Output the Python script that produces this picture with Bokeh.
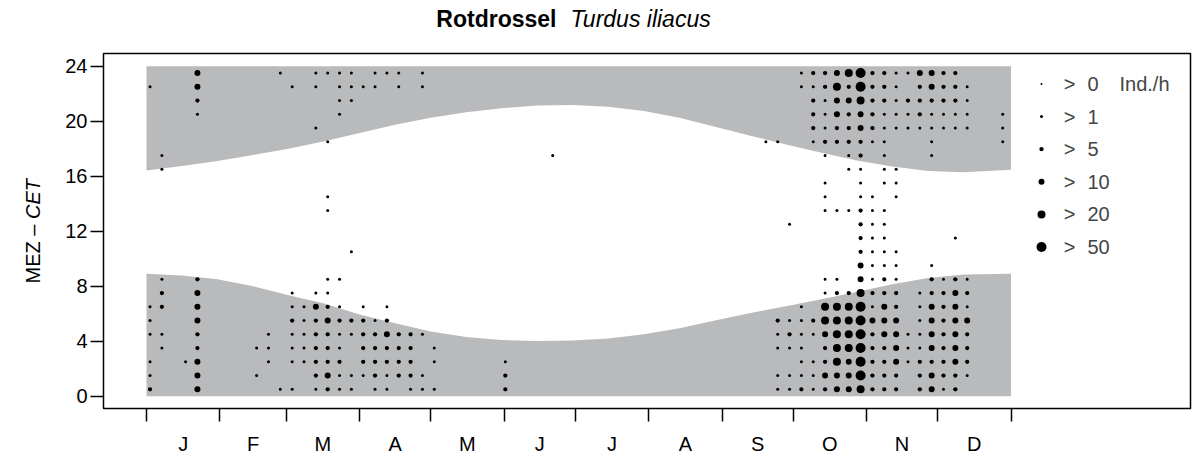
from bokeh.plotting import figure
from bokeh.models import Range1d, FixedTicker, Label
from bokeh.layouts import column, row
from bokeh.embed import file_html
from bokeh.resources import INLINE
from bokeh.core.properties import value
from math import pi

# ---------------- data ----------------
months = ["J", "F", "M", "A", "M", "J", "J", "A", "S", "O", "N", "D"]
month_days = [31, 28, 31, 30, 31, 30, 31, 31, 30, 31, 30, 31]
y_ticks = [0, 4, 8, 12, 16, 20, 24]

# abundance classes (Ind./h)
class_labels = ["0", "1", "5", "10", "20", "50"]
class_sizes = [2.0, 3.0, 4.3, 6.0, 8.0, 10.0]

# pentade index -> class per hour (char i = hour i, 0 = no record)
detections = {
    0:  "322022200000000000000020",
    1:  "000220332000000022000000",
    3:  "002000000000000000000000",
    4:  "444334443000000000002344",
    9:  "020200000000000000000000",
    10: "002220000000000000000000",
    11: "200000000000000000000002",
    12: "202223220000000000000020",
    13: "002222200000000000000000",
    14: "233333420000000000020022",
    15: "343334322000022000200002",
    16: "223223202000000000002222",
    17: "220023000020000000000222",
    18: "023333200000000000000020",
    19: "233332000000000000000022",
    20: "223343200000000000000002",
    21: "033330000000000000000022",
    22: "233330000000000000000000",
    23: "220020000000000000000022",
    24: "202200000000000000000000",
    30: "332000000000000000000000",
    34: "000000000000000002000000",
    52: "000000000000000000200000",
    53: "220223000000000000200000",
    54: "220232000000200000000000",
    55: "322222200000000000000022",
    56: "222023000000000000233323",
    57: "343345522000022202322233",
    58: "445555532000020000334454",
    59: "444555530000020022333435",
    60: "566666654433332223344566",
    61: "333334232222222000233333",
    62: "333344433222220222222333",
    63: "334444332220002220022222",
    64: "002220000000000000022302",
    65: "333222220000000000023334",
    66: "443444433200000002222344",
    67: "233333332000000000022333",
    68: "334444443002000000022333",
    69: "023334232000000000022220",
    72: "000000000000000000222000",
}

# night band edges (day of year -> hour CET)
edge_days = [0, 15, 30, 45, 60, 75, 90, 105, 120, 135, 150, 165, 180,
             195, 210, 225, 240, 255, 270, 285, 300, 315, 330, 345, 365]
sunrise_h = [8.9, 8.78, 8.5, 8.0, 7.35, 6.75, 5.95, 5.3, 4.7, 4.3, 4.08, 4.02, 4.05,
             4.2, 4.5, 4.95, 5.5, 6.05, 6.55, 7.05, 7.6, 8.15, 8.6, 8.85, 8.9]
sunset_h = [16.41, 16.75, 17.1, 17.55, 18.0, 18.55, 19.15, 19.75, 20.25, 20.65, 20.95, 21.15, 21.18,
            21.05, 20.75, 20.25, 19.6, 18.95, 18.3, 17.7, 17.15, 16.7, 16.38, 16.29, 16.47]

# ---------------- build ----------------
FONT = "Liberation Sans"
GREY = "#b9babc"

xs, ys, ss = [], [], []
for pent, rowstr in detections.items():
    assert len(rowstr) == 24
    for h, c in enumerate(rowstr):
        k = int(c)
        if k > 0:
            xs.append(1.5 + 5 * pent)
            ys.append(h + 0.5)
            ss.append(class_sizes[k - 1])


def dx(px):  # page pixel -> day
    return (px - 146.0) / 2.3685


def dy(py):  # page pixel -> hour
    return (395.7 - py) / 13.75


def blank(w, h, xr, yr, **kw):
    f = figure(width=w, height=h, x_range=xr, y_range=yr, output_backend="svg",
               toolbar_location=None, x_axis_location=None, y_axis_location=None, **kw)
    f.grid.visible = False
    f.outline_line_color = None
    f.background_fill_color = "white"
    f.border_fill_color = "white"
    return f


# ---- main plot ----
p = figure(width=1144, height=383,
           x_range=Range1d(dx(103), dx(1190)), y_range=Range1d(dy(408), dy(53)),
           output_backend="svg", toolbar_location=None,
           min_border_left=53, min_border_right=4, min_border_top=8, min_border_bottom=20)
p.grid.visible = False
p.outline_line_color = "black"
p.outline_line_width = 1.5
p.background_fill_color = "white"
p.border_fill_color = "white"

p.varea(x=edge_days, y1=sunset_h, y2=[24] * len(edge_days), fill_color=GREY)
p.varea(x=edge_days, y1=[0] * len(edge_days), y2=sunrise_h, fill_color=GREY)

p.scatter(x=xs, y=ys, size=ss, marker="circle", fill_color="black", line_color=None)

p.yaxis.ticker = FixedTicker(ticks=y_ticks)
p.yaxis.axis_line_color = None
p.yaxis.major_tick_out = 13
p.yaxis.major_tick_in = 0
p.yaxis.major_tick_line_width = 1.5
p.yaxis.minor_tick_line_color = None
p.yaxis.major_label_standoff = 3
p.yaxis.major_label_text_font = FONT
p.yaxis.major_label_text_font_size = "20px"
p.yaxis.major_label_text_color = "black"

bounds = [0]
for d in month_days:
    bounds.append(bounds[-1] + d)
mids = [(bounds[i] + bounds[i + 1]) / 2 for i in range(12)]
p.xaxis.ticker = FixedTicker(ticks=bounds)
p.xaxis.axis_line_color = None
p.xaxis.major_tick_out = 13
p.xaxis.major_tick_in = 0
p.xaxis.major_tick_line_width = 1.5
p.xaxis.minor_tick_line_color = None
p.xaxis.major_label_overrides = {b: "" for b in bounds}
p.xaxis.major_label_text_font_size = "1px"
p.xaxis.major_label_standoff = 0

# legend (inside the plot frame)
leg_y = [dy(83.5 + 32.6 * i) for i in range(len(class_labels))]
p.scatter(x=[dx(1041)] * len(class_labels), y=leg_y, size=class_sizes, marker="circle",
          fill_color="black", line_color=None)
for i, lab in enumerate(class_labels):
    p.add_layout(Label(x=dx(1069), y=leg_y[i], text=">", text_font=FONT, text_font_size="20px",
                       text_align="center", text_baseline="middle"))
    p.add_layout(Label(x=dx(1087), y=leg_y[i], text=lab, text_font=FONT, text_font_size="20px",
                       text_align="left", text_baseline="middle"))
p.add_layout(Label(x=dx(1119), y=leg_y[0], text="Ind./h", text_font=FONT, text_font_size="20px",
                   text_align="left", text_baseline="middle"))

# ---- month letters strip (shares the x scale) ----
mf = blank(1144, 27, p.x_range, Range1d(455, 428),
           min_border_left=53, min_border_right=4, min_border_top=0, min_border_bottom=0)
mf.text(x=mids, y=[443.5] * 12, text=months, text_font=value(FONT), text_font_size=value("20px"),
        text_align=value("center"), text_baseline=value("middle"), text_color="black")

# ---- y label strip ----
yl = blank(50, 410, Range1d(0, 50), Range1d(455, 45), min_border=0)
yl.text(x=[32], y=[218.5], text=["MEZ \u2013 "], angle=pi / 2, text_font=value(FONT),
        text_font_size=value("20px"), text_align=value("right"), text_baseline=value("middle"),
        text_color="black")
yl.text(x=[32], y=[218.5], text=["CET"], angle=pi / 2, text_font=value(FONT),
        text_font_style=value("italic"), text_font_size=value("20px"), text_align=value("left"),
        text_baseline=value("middle"), text_color="black")

# ---- title strip ----
tf = blank(1194, 45, Range1d(0, 1194), Range1d(45, 0), min_border=0)
tf.text(x=[556], y=[18], text=["Rotdrossel"], text_font=value(FONT), text_font_style=value("bold"),
        text_font_size=value("23px"), text_align=value("right"), text_baseline=value("middle"),
        text_color="black")
tf.text(x=[570], y=[18], text=["Turdus iliacus"], text_font=value(FONT),
        text_font_style=value("italic"), text_font_size=value("23px"), text_align=value("left"),
        text_baseline=value("middle"), text_color="black")

layout = column(tf, row(yl, column(p, mf)))
open("out.html", "w").write(file_html(layout, INLINE))
